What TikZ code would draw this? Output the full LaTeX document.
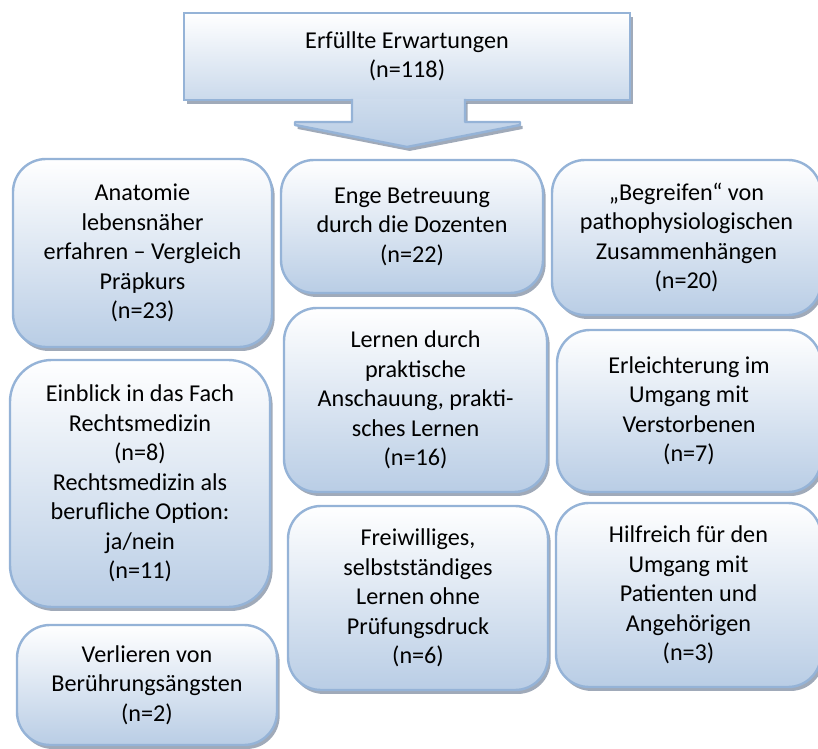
\documentclass[tikz,border=0pt]{standalone}
\usepackage{fontspec}
\setmainfont{Carlito}
\usetikzlibrary{positioning}
\usetikzlibrary{calc}
\usetikzlibrary{shadows}
\definecolor{boxline}{RGB}{149,179,215}
\definecolor{boxfill}{RGB}{185,205,229}
\definecolor{boxshadow}{RGB}{128,142,162}
\tikzset{
  boxsize/.style 2 args={minimum width=#1*0.455pt, minimum height=#2*0.455pt},
  softshadow/.style={drop shadow={shadow xshift=1.2pt, shadow yshift=-1.8pt, fill=boxshadow, opacity=.75}},
  result/.style={draw=boxline, line width=1.1pt, rounded corners=15pt, top color=white, bottom color=boxfill, softshadow}
}

\begin{document}
\begin{tikzpicture}[x=0.455pt, y=-0.455pt,
    every node/.style={font=\fontsize{11}{13.4}\selectfont, align=center, inner sep=0pt}]
      \useasboundingbox (0,0) rectangle (818,749);
      % header with the arrow below it
      \node [draw=boxline, line width=1.1pt, top color=white, bottom color=boxfill!75, softshadow, boxsize={446}{87}] (total) at (407,56.5) {Erfüllte Erwartungen\\(n=118)};
      \path [top color=boxfill!70, bottom color=boxfill, softshadow] (352,99) -- (352,122) -- (295,122) -- (295,125) -- (407,147) -- (520,125) -- (520,122) -- (465,122) -- (465,99) -- cycle;
      \draw [boxline, line width=1.1pt, line join=round] (352,99) -- (352,122) -- (295,122) -- (295,125) -- (407,147) -- (520,125) -- (520,122) -- (465,122) -- (465,99);
      % left column
      \node [result, boxsize={259}{188}] (anatomy) at (142.5,253) {Anatomie\\lebensnäher\\erfahren – Vergleich\\Präpkurs\\(n=23)};
      \node [result, rounded corners=19pt, boxsize={260}{247}] (forensic) at (140,483.5) {Einblick in das Fach\\Rechtsmedizin\\(n=8)\\Rechtsmedizin als\\berufliche Option:\\ja/nein\\(n=11)};
      \node [result, boxsize={260}{120}] (contact) at (147,685) {Verlieren von\\Berührungsängsten\\(n=2)};
      % middle column
      \node [result, boxsize={262}{133}] (tutors) at (412,226.5) {Enge Betreuung\\durch die Dozenten\\(n=22)};
      \node [result, boxsize={263}{184}] (practice) at (415.5,400) {Lernen durch\\praktische\\Anschauung, prakti-\\sches Lernen\\(n=16)};
      \node [result, boxsize={260}{184}] (voluntary) at (418,598) {Freiwilliges,\\selbstständiges\\Lernen ohne\\Prüfungsdruck\\(n=6)};
      % right column
      \node [result, boxsize={269}{155}] (patho) at (686.5,237.5) {„Begreifen“ von\\pathophysiologischen\\Zusammenhängen\\(n=20)};
      \node [result, boxsize={264}{162}] (deceased) at (689,411) {Erleichterung im\\Umgang mit\\Verstorbenen\\(n=7)};
      \node [result, boxsize={265}{184}] (patients) at (688.5,595) {Hilfreich für den\\Umgang mit\\Patienten und\\Angehörigen\\(n=3)};
\end{tikzpicture}
\end{document}
